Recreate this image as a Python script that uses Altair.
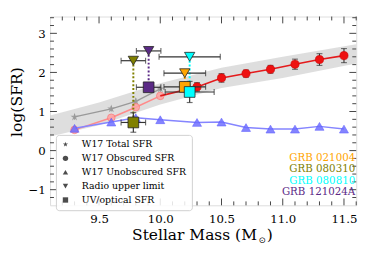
import altair as alt
import pandas as pd

# ---------------- data ----------------
band_mass = [9.1, 9.5, 10.0, 10.5, 11.0, 11.6]
band_lo = [0.36, 0.65, 1.18, 1.60, 1.86, 2.23]
band_hi = [0.90, 1.23, 1.72, 2.12, 2.40, 2.72]

total_mass = [9.3, 9.6, 9.8, 10.0]
total_sfr = [0.86, 1.07, 1.26, 1.58]
total_err = [0.07, 0.07, 0.08, 0.08]

obsc_mass = [9.3, 9.6, 9.8, 10.0, 10.3, 10.5, 10.7, 10.9, 11.1, 11.3, 11.5]
obsc_sfr = [0.53, 0.84, 1.11, 1.40, 1.63, 1.86, 1.97, 2.08, 2.21, 2.33, 2.43]
obsc_err = [0.05, 0.05, 0.05, 0.05, 0.11, 0.11, 0.09, 0.10, 0.13, 0.15, 0.18]

unobsc_mass = [9.3, 9.6, 9.8, 10.0, 10.3, 10.5, 10.7, 10.9, 11.1, 11.3, 11.5]
unobsc_sfr = [0.57, 0.73, 0.84, 0.79, 0.72, 0.73, 0.59, 0.55, 0.55, 0.62, 0.55]

grb_names = ["GRB 021004", "GRB 080310", "GRB 080810", "GRB 121024A"]
grb_colors = ["#FFA500", "#808000", "#00FFFF", "#5B2A86"]
grb_mass = [10.20, 9.78, 10.24, 9.905]
grb_mass_err = [0.17, 0.10, 0.20, 0.10]
grb_uv_sfr = [1.63, 0.72, 1.50, 1.62]
grb_uv_err = [0.05, 0.25, 0.27, 0.05]
grb_radio_lim = [1.98, 2.30, 2.40, 2.55]
grb_radio_mass_err = [0.17, 0.10, 0.25, 0.10]

legend_labels = ["W17 Total SFR", "W17 Obscured SFR", "W17 Unobscured SFR",
                 "Radio upper limit", "UV/optical SFR"]

x_major = [9.5, 10.0, 10.5, 11.0, 11.5]
x_minor = [9.2, 9.3, 9.4, 9.6, 9.7, 9.8, 9.9, 10.1, 10.2, 10.3, 10.4, 10.6,
           10.7, 10.8, 10.9, 11.1, 11.2, 11.3, 11.4, 11.6]
y_major = [-1, 0, 1, 2, 3]
y_minor = [-1.2, -0.8, -0.6, -0.4, -0.2, 0.2, 0.4, 0.6, 0.8, 1.2, 1.4, 1.6, 1.8,
           2.2, 2.4, 2.6, 2.8, 3.2, 3.4]

x_title_parts = ["Stellar Mass (M", "\u2299", ")"]
y_title = "log(SFR)"

# ---------------- layout / style ----------------
W, H = 313, 193
FONT = "DejaVu Serif"
STAR = ("M0,-1L0.2245,-0.309L0.951,-0.309L0.363,0.118L0.588,0.809L0,0.382"
        "L-0.588,0.809L-0.363,0.118L-0.951,-0.309L-0.2245,-0.309Z")
DARK = "#333333"

xs = alt.Scale(domain=[9.1, 11.6], nice=False, zero=False)
ys = alt.Scale(domain=[-1.4, 3.43], nice=False, zero=False)
x_axis = alt.Axis(values=x_major, format=".1f", ticks=False, domain=False, grid=False,
                  labelFont=FONT, labelFontSize=12, labelColor="black", labelPadding=9,
                  title=None)
y_axis = alt.Axis(values=y_major, format="d", ticks=False, domain=False, grid=False,
                  labelFont=FONT, labelFontSize=12, labelColor="black", labelPadding=5,
                  title=y_title, titleFont=FONT, titleFontSize=16,
                  titleFontWeight="normal", titleColor="black", titlePadding=3,
                  titleY=87)


def X(f):
    return alt.X(f, type="quantitative", scale=xs, axis=x_axis)


def Y(f):
    return alt.Y(f, type="quantitative", scale=ys, axis=y_axis)


# ---------------- tables ----------------
band = pd.DataFrame({"m": band_mass, "lo": band_lo, "hi": band_hi})
tot = pd.DataFrame({"m": total_mass, "s": total_sfr, "e": total_err})
tot["lo"] = tot.s - tot.e
tot["hi"] = tot.s + tot.e
obs = pd.DataFrame({"m": obsc_mass, "s": obsc_sfr, "e": obsc_err})
obs["lo"] = obs.s - obs.e
obs["hi"] = obs.s + obs.e
obs_light = obs[obs.m <= 10.0]
obs_dark_line = obs[obs.m >= 10.0]
obs_dark = obs[obs.m > 10.0]
uno = pd.DataFrame({"m": unobsc_mass, "s": unobsc_sfr})

grb = pd.DataFrame({"name": grb_names, "m": grb_mass, "me": grb_mass_err,
                    "uv": grb_uv_sfr, "uve": grb_uv_err, "lim": grb_radio_lim,
                    "lme": grb_radio_mass_err})
grb["mlo"] = grb.m - grb.me
grb["mhi"] = grb.m + grb.me
grb["lmlo"] = grb.m - grb.lme
grb["lmhi"] = grb.m + grb.lme
grb["uvlo"] = grb.uv - grb.uve
grb["uvhi"] = grb.uv + grb.uve
gcol = alt.Color("name:N", scale=alt.Scale(domain=grb_names, range=grb_colors), legend=None)

layers = []

# main-sequence band
layers.append(alt.Chart(band).mark_area(color="#d3d3d3", opacity=0.75).encode(
    x=X("m"), y=Y("lo"), y2="hi"))

# W17 total (grey stars)
layers.append(alt.Chart(tot).mark_rule(color="#999999", strokeWidth=1).encode(
    x=X("m"), y=Y("lo"), y2="hi"))
layers.append(alt.Chart(tot).mark_line(color="#999999", strokeWidth=1.3).encode(
    x=X("m"), y=Y("s")))
layers.append(alt.Chart(tot).mark_point(shape=STAR, filled=True, size=75, color="#999999",
                                        opacity=0.9).encode(x=X("m"), y=Y("s")))

# W17 obscured (light part)
layers.append(alt.Chart(obs_light).mark_line(color="#ff8a8a", strokeWidth=1.5).encode(
    x=X("m"), y=Y("s")))
layers.append(alt.Chart(obs_light).mark_point(shape="circle", filled=True, size=60,
                                              color="#ffa3a3", opacity=0.85,
                                              stroke="#ff7070", strokeWidth=0.8).encode(
    x=X("m"), y=Y("s")))

# W17 unobscured (blue triangles)
layers.append(alt.Chart(uno).mark_line(color="#8585ff", strokeWidth=1.5).encode(
    x=X("m"), y=Y("s")))
layers.append(alt.Chart(uno).mark_point(shape="triangle-up", filled=True, size=85,
                                        color="#6f6fff", opacity=0.85,
                                        stroke="#4a4aff", strokeWidth=0.6).encode(
    x=X("m"), y=Y("s")))

# W17 obscured (dark part)
layers.append(alt.Chart(obs_dark_line).mark_line(color="#e41a1c", strokeWidth=1.6).encode(
    x=X("m"), y=Y("s")))
layers.append(alt.Chart(obs_dark).mark_rule(color=DARK, strokeWidth=1.1).encode(
    x=X("m"), y=Y("lo"), y2="hi"))
for f in ["lo", "hi"]:
    layers.append(alt.Chart(obs_dark).mark_tick(orient="horizontal", color=DARK, size=6,
                                                thickness=1.1).encode(x=X("m"), y=Y(f)))
layers.append(alt.Chart(obs_dark).mark_point(shape="circle", filled=True, size=70,
                                             color="#ee1111", opacity=1,
                                             stroke="#cc0000", strokeWidth=0.6).encode(
    x=X("m"), y=Y("s")))

# GRB dotted connectors
layers.append(alt.Chart(grb).mark_rule(strokeDash=[2, 2], strokeWidth=2).encode(
    x=X("m"), y=Y("lim"), y2="uv", color=gcol))
# GRB horizontal error bars
for lo, hi, yf in [("mlo", "mhi", "uv"), ("lmlo", "lmhi", "lim")]:
    layers.append(alt.Chart(grb).mark_rule(color=DARK, strokeWidth=1.2).encode(
        x=X(lo), x2=hi, y=Y(yf)))
    for f in [lo, hi]:
        layers.append(alt.Chart(grb).mark_tick(orient="vertical", color=DARK, size=6,
                                               thickness=1.2).encode(x=X(f), y=Y(yf)))
# GRB vertical error bars on UV points
layers.append(alt.Chart(grb).mark_rule(color=DARK, strokeWidth=1.2).encode(
    x=X("m"), y=Y("uvlo"), y2="uvhi"))
for f in ["uvlo", "uvhi"]:
    layers.append(alt.Chart(grb).mark_tick(orient="horizontal", color=DARK, size=6,
                                           thickness=1.2).encode(x=X("m"), y=Y(f)))
# GRB markers
layers.append(alt.Chart(grb).mark_point(shape="square", filled=True, size=120, opacity=1,
                                        stroke="#222222", strokeWidth=0.8).encode(
    x=X("m"), y=Y("uv"), color=gcol))
layers.append(alt.Chart(grb).mark_point(shape="triangle-down", filled=True, size=110,
                                        opacity=1, stroke="#222222",
                                        strokeWidth=0.8).encode(
    x=X("m"), y=Y("lim"), color=gcol))

# inward ticks on all four sides
TC = "#444444"
for vals, ln in [(x_major, 7), (x_minor, 4)]:
    d = pd.DataFrame({"v": vals})
    layers.append(alt.Chart(d).mark_rule(color=TC, strokeWidth=1).encode(
        x=X("v"), y=alt.value(0), y2=alt.value(ln)))
    layers.append(alt.Chart(d).mark_rule(color=TC, strokeWidth=1).encode(
        x=X("v"), y=alt.value(H), y2=alt.value(H - ln)))
for vals, ln in [(y_major, 7), (y_minor, 4)]:
    d = pd.DataFrame({"v": vals})
    layers.append(alt.Chart(d).mark_rule(color=TC, strokeWidth=1).encode(
        y=Y("v"), x=alt.value(0), x2=alt.value(ln)))
    layers.append(alt.Chart(d).mark_rule(color=TC, strokeWidth=1).encode(
        y=Y("v"), x=alt.value(W), x2=alt.value(W - ln)))

# GRB name labels
lab = pd.DataFrame({"name": grb_names, "row": list(range(len(grb_names)))})
for i, (nm, c) in enumerate(zip(grb_names, grb_colors)):
    layers.append(alt.Chart(lab[lab.row == i]).mark_text(
        align="right", baseline="middle", font=FONT, fontSize=10.5, color=c).encode(
        text="name:N", x=alt.value(W - 1), y=alt.value(144.5 + 11.7 * i)))

# x-axis title with subscript sun symbol
ttl = pd.DataFrame({"t": x_title_parts, "k": [0, 1, 2]})
layers.append(alt.Chart(ttl[ttl.k == 0]).mark_text(
    align="right", baseline="alphabetic", font=FONT, fontSize=15.8, color="black").encode(
    text="t:N", x=alt.value(211.5), y=alt.value(228)))
layers.append(alt.Chart(ttl[ttl.k == 1]).mark_text(
    align="left", baseline="alphabetic", font="DejaVu Sans", fontSize=8.5, color="black").encode(
    text="t:N", x=alt.value(213), y=alt.value(231.5)))
layers.append(alt.Chart(ttl[ttl.k == 2]).mark_text(
    align="left", baseline="alphabetic", font=FONT, fontSize=15.8, color="black").encode(
    text="t:N", x=alt.value(221.5), y=alt.value(228)))

# legend (symbols drawn from a shape scale; dummy points clipped out of view)
leg = pd.DataFrame({"label": legend_labels, "m": [9.0] * 5, "s": [-3.0] * 5})
layers.append(alt.Chart(leg).mark_point(filled=True, color="black", size=30, clip=True).encode(
    x=X("m"), y=Y("s"),
    shape=alt.Shape("label:N",
                    scale=alt.Scale(domain=legend_labels,
                                    range=[STAR, "circle", "triangle-up", "triangle-down",
                                           "square"]),
                    legend=alt.Legend(orient="none", legendX=6, legendY=121, title=None,
                                      fillColor="rgba(255,255,255,0.85)",
                                      strokeColor="#d0d0d0", cornerRadius=3, padding=5,
                                      labelFont=FONT, labelFontSize=9.5, labelColor="black",
                                      labelOffset=12, symbolSize=30, rowPadding=3.2,
                                      symbolFillColor="black", symbolStrokeColor="black",
                                      symbolStrokeWidth=0))))

chart = alt.layer(*layers).properties(
    width=W, height=H,
    autosize=alt.AutoSizeParams(type="none"),
    padding={"left": 43, "top": 6, "right": 10, "bottom": 45},
).configure_view(stroke="#444444", strokeWidth=1.3).configure(background="white")

chart.save("out.html", embed_options={"renderer": "svg", "actions": False})
